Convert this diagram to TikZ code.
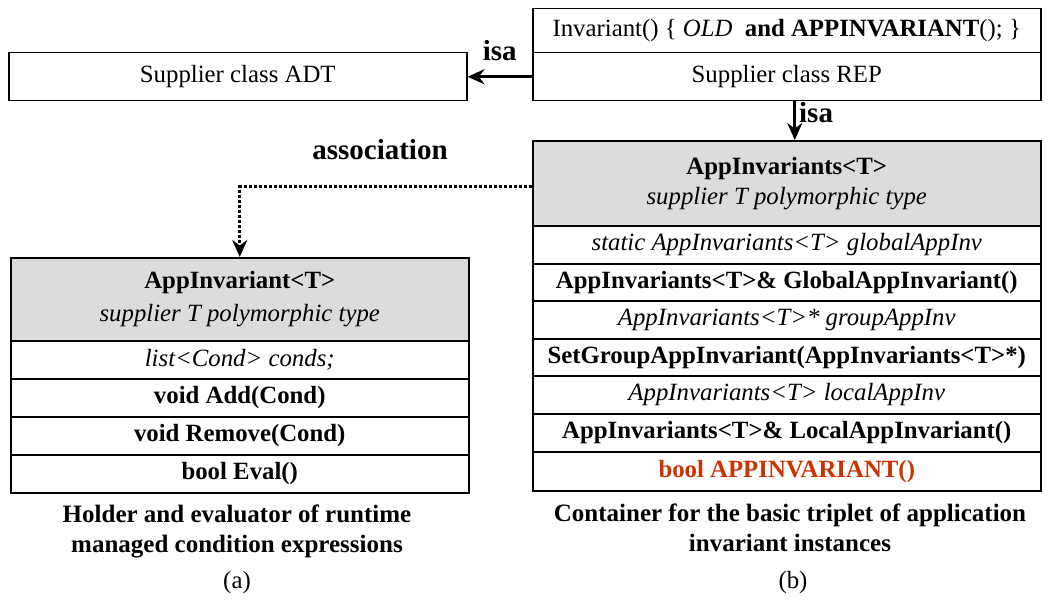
\documentclass[tikz,border=0pt]{standalone}
\usepackage{fontspec}
\setmainfont{Liberation Serif}
\usetikzlibrary{arrows.meta}
\definecolor{hdrgray}{RGB}{220,220,220}
\definecolor{redtxt}{RGB}{204,51,0}
\begin{document}
\begin{tikzpicture}[x=1pt,y=-1pt,
  every node/.style={font=\fontsize{24.8}{30}\selectfont, inner sep=0pt},
  cell/.style={draw, line width=1.5pt, anchor=north west, align=center},
  rcell/.style={cell, minimum width=508pt, minimum height=38pt},
  lcell/.style={cell, minimum width=458pt, minimum height=38pt},
  hdr/.style={fill=hdrgray},
  isaarrow/.style={line width=2.8pt, -{Stealth[length=17pt,width=15pt]}},
  assoc/.style={line width=3pt, dash pattern=on 3pt off 2pt, -{Stealth[length=17pt,width=15pt]}},
  lbl/.style={font=\fontsize{29}{34}\selectfont\bfseries},
  captext/.style={font=\fontsize{25}{30}\selectfont\bfseries, align=center}
]
\useasboundingbox (0,0) rectangle (1048,599);

% Supplier class ADT
\node[cell, minimum width=458pt, minimum height=48pt] (adt) at (8,52) {Supplier class ADT};

% Supplier class REP
\node[cell, minimum width=508pt, minimum height=44pt] (inv) at (532,8) {Invariant() \{ \textit{OLD}\ \ \textbf{and APPINVARIANT}(); \}};
\node[cell, minimum width=508pt, minimum height=48pt] (rep) at (532,52) {Supplier class REP};

% Right box
\node[rcell, hdr, minimum height=85pt] (rhead) at (532,140) {\textbf{AppInvariants<T>}\\\textit{supplier T polymorphic type}};
\node[rcell] (r1) at (532,225) {\textit{static AppInvariants<T> globalAppInv}};
\node[rcell, minimum height=37pt] (r2) at (532,263) {\textbf{AppInvariants<T>\& GlobalAppInvariant()}};
\node[rcell] (r3) at (532,300) {\textit{AppInvariants<T>* groupAppInv}};
\node[rcell, minimum height=37pt] (r4) at (532,338) {\textbf{SetGroupAppInvariant(AppInvariants<T>*)}};
\node[rcell] (r5) at (532,375) {\textit{AppInvariants<T> localAppInv}};
\node[rcell] (r6) at (532,413) {\textbf{AppInvariants<T>\& LocalAppInvariant()}};
\node[rcell, minimum height=39pt, text=redtxt] (r7) at (532,451) {\textbf{bool APPINVARIANT()}};

% Left box
\node[lcell, hdr, minimum height=83pt] (lhead) at (10,257) {\textbf{AppInvariant<T>}\\[3pt]\textit{supplier T polymorphic type}};
\node[lcell] (l1) at (10,340) {\textit{list<Cond> conds;}};
\node[lcell] (l2) at (10,378) {\textbf{void Add(Cond)}};
\node[lcell] (l3) at (10,416) {\textbf{void Remove(Cond)}};
\node[lcell] (l4) at (10,454) {\textbf{bool Eval()}};

% Connectors
\draw[isaarrow] (rep.west) -- (adt.east) node[lbl, midway, above=15pt] (isa1) {isa};
\draw[isaarrow] ([xshift=8pt]rep.south) -- ([xshift=8pt]rhead.north) node[lbl, pos=0.3, right=3pt] (isa2) {isa};
\draw[assoc] ([yshift=-3.5pt]rhead.west) -| (lhead.north);
\node[lbl] (assoclbl) at (380,150) {association};

% Captions
\node[captext] (capa) at (237,531) {Holder and evaluator of runtime\\managed condition expressions};
\node[captext] (capb) at (790,528) {Container for the basic triplet of application\\invariant instances};
\node (suba) at (237,583) {(a)};
\node (subb) at (793,583) {(b)};
\end{tikzpicture}
\end{document}
